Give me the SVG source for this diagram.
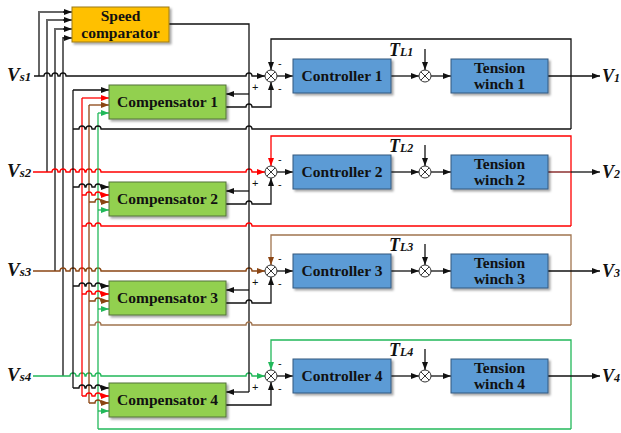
<svg xmlns="http://www.w3.org/2000/svg" width="621" height="433" viewBox="0 0 621 433">
<defs>
<style>
.box{stroke-width:1}
.sc{fill:#FFC000;stroke:#9C7A10}
.cp{fill:#92D050;stroke:#52733A}
.bl{fill:#5B9BD5;stroke:#35597F}
.bt{font-family:'Liberation Serif','Times New Roman',serif;font-weight:bold;font-size:15.5px;text-anchor:middle;fill:#111}
.lab{font-family:'Liberation Serif','Times New Roman',serif;font-weight:bold;font-style:italic;fill:#111}
.sg{font-family:'Liberation Sans',Arial,sans-serif;font-size:11px;fill:#111}
.ln{fill:none;stroke-width:1.3}
.k{stroke:#111}
.r{stroke:#FF0000}
.b{stroke:#8B4513}
.bl2{stroke:#A0744F}
.g{stroke:#22B85A}
.gy{stroke:#666;stroke-width:2}
.dr{stroke:#7A1010}
.jn{fill:#fff;stroke:#333;stroke-width:1}
</style>
<marker id="ak" viewBox="0 0 8 6" refX="8" refY="3" markerWidth="8" markerHeight="6" markerUnits="userSpaceOnUse" orient="auto"><path d="M0,0L8,3L0,6z" fill="#111"/></marker>
<marker id="ar" viewBox="0 0 8 6" refX="8" refY="3" markerWidth="8" markerHeight="6" markerUnits="userSpaceOnUse" orient="auto"><path d="M0,0L8,3L0,6z" fill="#FF0000"/></marker>
<marker id="ab" viewBox="0 0 8 6" refX="8" refY="3" markerWidth="8" markerHeight="6" markerUnits="userSpaceOnUse" orient="auto"><path d="M0,0L8,3L0,6z" fill="#8B4513"/></marker>
<marker id="ag" viewBox="0 0 8 6" refX="8" refY="3" markerWidth="8" markerHeight="6" markerUnits="userSpaceOnUse" orient="auto"><path d="M0,0L8,3L0,6z" fill="#22B85A"/></marker>
<filter id="sh" x="-10%" y="-20%" width="130%" height="150%"><feDropShadow dx="2" dy="2" stdDeviation="1.2" flood-color="#000" flood-opacity="0.35"/></filter>
</defs>
<rect width="621" height="433" fill="#fff"/>

<g id="connectors">
<!-- input buses to speed comparator -->
<path class="ln gy" d="M39,76L39,12L64,12" />
<path class="ln gy" d="M47,172L47,20L64,20" />
<path class="ln gy" d="M55,271L55,29L64,29" />
<path class="ln gy" d="M63,376L63,38L64,38" />
<path class="ln k" d="M63,12L72,12" marker-end="url(#ak)"/>
<path class="ln k" d="M63,20L72,20" marker-end="url(#ak)"/>
<path class="ln k" d="M63,29L72,29" marker-end="url(#ak)"/>
<path class="ln k" d="M63,38L72,38" marker-end="url(#ak)"/>
<!-- reference speed lines -->
<path class="ln k" d="M34,76L44,76A3,3 0 0 1 50,76L52,76A3,3 0 0 1 58,76L60,76A3,3 0 0 1 66,76L246,76A3,3 0 0 1 252,76L265,76" marker-end="url(#ak)"/>
<path class="ln r" d="M33,172L52,172A3,3 0 0 1 58,172L60,172A3,3 0 0 1 66,172L70,172A3,3 0 0 1 76,172L79,172A3,3 0 0 1 85,172L86,172A3,3 0 0 1 92,172L95,172A3,3 0 0 1 101,172L246,172A3,3 0 0 1 252,172L265,172" marker-end="url(#ar)"/>
<path class="ln b" d="M33,271L60,271A3,3 0 0 1 66,271L70,271A3,3 0 0 1 76,271L79,271A3,3 0 0 1 85,271L86,271A3,3 0 0 1 92,271L95,271A3,3 0 0 1 101,271L246,271A3,3 0 0 1 252,271L265,271" marker-end="url(#ab)"/>
<path class="ln g" d="M33,376L70,376A3,3 0 0 1 76,376L79,376A3,3 0 0 1 85,376L86,376A3,3 0 0 1 92,376L95,376A3,3 0 0 1 101,376L246,376A3,3 0 0 1 252,376L265,376" marker-end="url(#ag)"/>
<!-- speed comparator output -->
<path class="ln k" d="M169,24L249,24L249,392"/>
<path class="ln k" d="M249,94L226,94" marker-end="url(#ak)"/>
<path class="ln k" d="M249,191L226,191" marker-end="url(#ak)"/>
<path class="ln k" d="M249,290L226,290" marker-end="url(#ak)"/>
<path class="ln k" d="M249,392L226,392" marker-end="url(#ak)"/>
<!-- compensator outputs -->
<path class="ln k" d="M226,107L246,107A3,3 0 0 1 252,107L271,107L271,82" marker-end="url(#ak)"/>
<path class="ln k" d="M226,204L246,204A3,3 0 0 1 252,204L271,204L271,178" marker-end="url(#ak)"/>
<path class="ln k" d="M226,303L246,303A3,3 0 0 1 252,303L271,303L271,277" marker-end="url(#ak)"/>
<path class="ln k" d="M226,405L271,405L271,382" marker-end="url(#ak)"/>
<!-- feedback verticals -->
<path class="ln k" d="M73,90L73,388"/>
<path class="ln r" d="M82,98L82,396"/>
<path class="ln b" d="M89,105L89,403"/>
<path class="ln g" d="M98,113L98,429"/>
<!-- compensator inputs -->
<path class="ln k" d="M73,90L109,90" marker-end="url(#ak)"/>
<path class="ln r" d="M82,98L109,98" marker-end="url(#ar)"/>
<path class="ln b" d="M89,105L109,105" marker-end="url(#ab)"/>
<path class="ln g" d="M98,113L109,113" marker-end="url(#ag)"/>
<path class="ln k" d="M73,187L79,187A3,3 0 0 1 85,187L86,187A3,3 0 0 1 92,187L95,187A3,3 0 0 1 101,187L109,187" marker-end="url(#ak)"/>
<path class="ln r" d="M82,195L86,195A3,3 0 0 1 92,195L95,195A3,3 0 0 1 101,195L109,195" marker-end="url(#ar)"/>
<path class="ln b" d="M89,202L95,202A3,3 0 0 1 101,202L109,202" marker-end="url(#ab)"/>
<path class="ln g" d="M98,210L109,210" marker-end="url(#ag)"/>
<path class="ln k" d="M73,286L79,286A3,3 0 0 1 85,286L86,286A3,3 0 0 1 92,286L95,286A3,3 0 0 1 101,286L109,286" marker-end="url(#ak)"/>
<path class="ln r" d="M82,294L86,294A3,3 0 0 1 92,294L95,294A3,3 0 0 1 101,294L109,294" marker-end="url(#ar)"/>
<path class="ln b" d="M89,301L95,301A3,3 0 0 1 101,301L109,301" marker-end="url(#ab)"/>
<path class="ln g" d="M98,309L109,309" marker-end="url(#ag)"/>
<path class="ln k" d="M73,388L79,388A3,3 0 0 1 85,388L86,388A3,3 0 0 1 92,388L95,388A3,3 0 0 1 101,388L109,388" marker-end="url(#ak)"/>
<path class="ln r" d="M82,396L86,396A3,3 0 0 1 92,396L95,396A3,3 0 0 1 101,396L109,396" marker-end="url(#ar)"/>
<path class="ln b" d="M89,403L95,403A3,3 0 0 1 101,403L109,403" marker-end="url(#ab)"/>
<path class="ln g" d="M98,411L109,411" marker-end="url(#ag)"/>
<!-- feedback loops -->
<path class="ln k" d="M571,129L571,39L271,39L271,70" marker-end="url(#ak)"/>
<path class="ln k" d="M571,129L252,129A3,3 0 0 0 246,129L101,129A3,3 0 0 0 95,129L92,129A3,3 0 0 0 86,129L85,129A3,3 0 0 0 79,129L73,129"/>
<path class="ln r" d="M571,226L571,136L271,136L271,166" marker-end="url(#ar)"/>
<path class="ln r" d="M571,226L252,226A3,3 0 0 0 246,226L101,226A3,3 0 0 0 95,226L92,226A3,3 0 0 0 86,226L82,226"/>
<path class="ln bl2" d="M571,325L571,235L271,235L271,259"/>
<path class="ln b" d="M271,258L271,265" marker-end="url(#ab)"/>
<path class="ln bl2" d="M571,325L252,325A3,3 0 0 0 246,325L101,325A3,3 0 0 0 95,325L89,325"/>
<path class="ln g" d="M571,429L571,340L271,340L271,370" marker-end="url(#ag)"/>
<path class="ln g" d="M571,429L98,429"/>
<!-- forward paths -->
<path class="ln k" d="M277,76L293,76" marker-end="url(#ak)"/>
<path class="ln k" d="M391,76L419,76" marker-end="url(#ak)"/>
<path class="ln k" d="M425,49L425,70" marker-end="url(#ak)"/>
<path class="ln k" d="M431,76L451,76" marker-end="url(#ak)"/>
<path class="ln k" d="M548,76L600,76" marker-end="url(#ak)"/>
<path class="ln k" d="M277,172L293,172" marker-end="url(#ak)"/>
<path class="ln k" d="M391,172L419,172" marker-end="url(#ak)"/>
<path class="ln k" d="M425,145L425,166" marker-end="url(#ak)"/>
<path class="ln k" d="M431,172L451,172" marker-end="url(#ak)"/>
<path class="ln dr" d="M548,172L571,172"/>
<path class="ln k" d="M571,172L600,172" marker-end="url(#ak)"/>
<path class="ln k" d="M277,271L293,271" marker-end="url(#ak)"/>
<path class="ln k" d="M391,271L419,271" marker-end="url(#ak)"/>
<path class="ln k" d="M425,244L425,265" marker-end="url(#ak)"/>
<path class="ln k" d="M431,271L451,271" marker-end="url(#ak)"/>
<path class="ln k" d="M548,271L600,271" marker-end="url(#ak)"/>
<path class="ln k" d="M277,376L293,376" marker-end="url(#ak)"/>
<path class="ln k" d="M391,376L419,376" marker-end="url(#ak)"/>
<path class="ln k" d="M425,349L425,370" marker-end="url(#ak)"/>
<path class="ln k" d="M431,376L451,376" marker-end="url(#ak)"/>
<path class="ln k" d="M548,376L600,376" marker-end="url(#ak)"/>
</g>

<g id="speed-comparator">
<rect class="box sc" x="72" y="7" width="97" height="35" filter="url(#sh)"/>
<text class="bt" x="120.5" y="21">Speed</text>
<text class="bt" x="120.5" y="38">comparator</text>
</g>

<g id="compensator-1"><rect class="box cp" x="109" y="85" width="117" height="34" filter="url(#sh)"/><text class="bt" x="167.5" y="107">Compensator 1</text></g>
<g id="compensator-2"><rect class="box cp" x="109" y="182" width="117" height="34" filter="url(#sh)"/><text class="bt" x="167.5" y="204">Compensator 2</text></g>
<g id="compensator-3"><rect class="box cp" x="109" y="281" width="117" height="34" filter="url(#sh)"/><text class="bt" x="167.5" y="303">Compensator 3</text></g>
<g id="compensator-4"><rect class="box cp" x="109" y="383" width="117" height="34" filter="url(#sh)"/><text class="bt" x="167.5" y="405">Compensator 4</text></g>

<g id="controller-1"><rect class="box bl" x="293" y="59" width="98" height="34" filter="url(#sh)"/><text class="bt" x="342" y="81">Controller 1</text></g>
<g id="controller-2"><rect class="box bl" x="293" y="155" width="98" height="34" filter="url(#sh)"/><text class="bt" x="342" y="177">Controller 2</text></g>
<g id="controller-3"><rect class="box bl" x="293" y="254" width="98" height="34" filter="url(#sh)"/><text class="bt" x="342" y="276">Controller 3</text></g>
<g id="controller-4"><rect class="box bl" x="293" y="359" width="98" height="34" filter="url(#sh)"/><text class="bt" x="342" y="381">Controller 4</text></g>

<g id="winch-1"><rect class="box bl" x="451" y="59" width="97" height="34" filter="url(#sh)"/><text class="bt" x="499.5" y="73">Tension</text><text class="bt" x="499.5" y="89">winch 1</text></g>
<g id="winch-2"><rect class="box bl" x="451" y="155" width="97" height="34" filter="url(#sh)"/><text class="bt" x="499.5" y="169">Tension</text><text class="bt" x="499.5" y="185">winch 2</text></g>
<g id="winch-3"><rect class="box bl" x="451" y="254" width="97" height="34" filter="url(#sh)"/><text class="bt" x="499.5" y="268">Tension</text><text class="bt" x="499.5" y="284">winch 3</text></g>
<g id="winch-4"><rect class="box bl" x="451" y="359" width="97" height="34" filter="url(#sh)"/><text class="bt" x="499.5" y="373">Tension</text><text class="bt" x="499.5" y="389">winch 4</text></g>

<g id="sum-1a"><circle class="jn" cx="271" cy="76" r="6"/><path d="M266.8,71.8L275.2,80.2M275.2,71.8L266.8,80.2" stroke="#333" stroke-width="1"/></g>
<g id="sum-2a"><circle class="jn" cx="271" cy="172" r="6"/><path d="M266.8,167.8L275.2,176.2M275.2,167.8L266.8,176.2" stroke="#333" stroke-width="1"/></g>
<g id="sum-3a"><circle class="jn" cx="271" cy="271" r="6"/><path d="M266.8,266.8L275.2,275.2M275.2,266.8L266.8,275.2" stroke="#333" stroke-width="1"/></g>
<g id="sum-4a"><circle class="jn" cx="271" cy="376" r="6"/><path d="M266.8,371.8L275.2,380.2M275.2,371.8L266.8,380.2" stroke="#333" stroke-width="1"/></g>
<g id="sum-1b"><circle class="jn" cx="425" cy="76" r="6"/><path d="M420.8,71.8L429.2,80.2M429.2,71.8L420.8,80.2" stroke="#333" stroke-width="1"/></g>
<g id="sum-2b"><circle class="jn" cx="425" cy="172" r="6"/><path d="M420.8,167.8L429.2,176.2M429.2,167.8L420.8,176.2" stroke="#333" stroke-width="1"/></g>
<g id="sum-3b"><circle class="jn" cx="425" cy="271" r="6"/><path d="M420.8,266.8L429.2,275.2M429.2,266.8L420.8,275.2" stroke="#333" stroke-width="1"/></g>
<g id="sum-4b"><circle class="jn" cx="425" cy="376" r="6"/><path d="M420.8,371.8L429.2,380.2M429.2,371.8L420.8,380.2" stroke="#333" stroke-width="1"/></g>

<g id="signs">
<text class="sg" x="278" y="66.5">-</text><text class="sg" x="252" y="90.5">+</text><text class="sg" x="278" y="91.5">-</text>
<text class="sg" x="278" y="162.5">-</text><text class="sg" x="252" y="186.5">+</text><text class="sg" x="278" y="187.5">-</text>
<text class="sg" x="278" y="261.5">-</text><text class="sg" x="252" y="285.5">+</text><text class="sg" x="278" y="286.5">-</text>
<text class="sg" x="278" y="366.5">-</text><text class="sg" x="252" y="390.5">+</text><text class="sg" x="278" y="391.5">-</text>
</g>

<g id="labels">
<text class="lab" x="7" y="81"><tspan font-size="19">V</tspan><tspan font-size="13">s1</tspan></text>
<text class="lab" x="7" y="177"><tspan font-size="19">V</tspan><tspan font-size="13">s2</tspan></text>
<text class="lab" x="7" y="276"><tspan font-size="19">V</tspan><tspan font-size="13">s3</tspan></text>
<text class="lab" x="7" y="381"><tspan font-size="19">V</tspan><tspan font-size="13">s4</tspan></text>
<text class="lab" x="389" y="56"><tspan font-size="18">T</tspan><tspan font-size="12">L1</tspan></text>
<text class="lab" x="389" y="152"><tspan font-size="18">T</tspan><tspan font-size="12">L2</tspan></text>
<text class="lab" x="389" y="251"><tspan font-size="18">T</tspan><tspan font-size="12">L3</tspan></text>
<text class="lab" x="389" y="356"><tspan font-size="18">T</tspan><tspan font-size="12">L4</tspan></text>
<text class="lab" x="602" y="82"><tspan font-size="18">V</tspan><tspan font-size="12">1</tspan></text>
<text class="lab" x="602" y="178"><tspan font-size="18">V</tspan><tspan font-size="12">2</tspan></text>
<text class="lab" x="602" y="277"><tspan font-size="18">V</tspan><tspan font-size="12">3</tspan></text>
<text class="lab" x="602" y="382"><tspan font-size="18">V</tspan><tspan font-size="12">4</tspan></text>
</g>
</svg>
